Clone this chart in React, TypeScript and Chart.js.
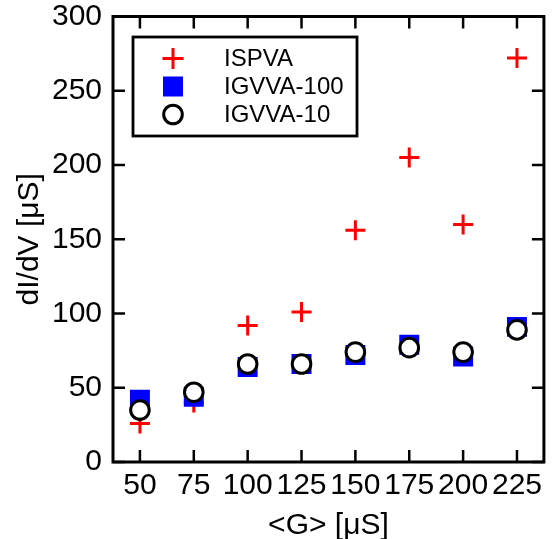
import React, { useEffect, useRef } from "react";
import { Chart, registerables } from "chart.js";

Chart.register(...registerables);

const categories = [50, 75, 100, 125, 150, 175, 200, 225];
const ispva = [26, 40, 92, 101, 156, 205, 160, 272];
const igvva100 = [42, 44, 64, 66, 72, 79, 71, 91];
const igvva10 = [35, 47, 66, 66, 74, 77, 74, 89];
const xTicks = [50, 75, 100, 125, 150, 175, 200, 225];
const yTicks = [0, 50, 100, 150, 200, 250, 300];
const seriesNames = ["ISPVA", "IGVVA-100", "IGVVA-10"];

const FONT = "'Liberation Sans', Arial, Helvetica, sans-serif";

const toPts = (vals: number[]) => categories.map((c, i) => ({ x: c, y: vals[i] }));

const framePlugin = {
  id: "frameTicks",
  afterDraw(chart: any) {
    const { ctx, chartArea } = chart;
    const { left, right, top, bottom } = chartArea;
    const xs = chart.scales.x;
    const ys = chart.scales.y;
    const tl = 12;
    ctx.save();
    ctx.strokeStyle = "#000";
    ctx.lineWidth = 2.5;
    ctx.beginPath();
    xTicks.forEach((v) => {
      const px = xs.getPixelForValue(v);
      ctx.moveTo(px, bottom);
      ctx.lineTo(px, bottom - tl);
      ctx.moveTo(px, top);
      ctx.lineTo(px, top + tl);
    });
    yTicks.forEach((v) => {
      const py = ys.getPixelForValue(v);
      ctx.moveTo(left, py);
      ctx.lineTo(left + tl, py);
      ctx.moveTo(right, py);
      ctx.lineTo(right - tl, py);
    });
    ctx.stroke();
    ctx.lineWidth = 3;
    ctx.strokeRect(left, top, right - left, bottom - top);

    // legend
    const bx = left + 20;
    const by = top + 20.5;
    const bw = 224;
    const bh = 99;
    ctx.fillStyle = "#fff";
    ctx.fillRect(bx, by, bw, bh);
    ctx.lineWidth = 2.8;
    ctx.strokeStyle = "#000";
    ctx.strokeRect(bx, by, bw, bh);
    const mx = bx + 40;
    const tx = bx + 91;
    const rows = [by + 21.5, by + 49.5, by + 77.5];
    // cross
    ctx.strokeStyle = "#ff0000";
    ctx.lineWidth = 3;
    ctx.beginPath();
    ctx.moveTo(mx - 10.5, rows[0]);
    ctx.lineTo(mx + 10.5, rows[0]);
    ctx.moveTo(mx, rows[0] - 10.5);
    ctx.lineTo(mx, rows[0] + 10.5);
    ctx.stroke();
    // square
    ctx.fillStyle = "#0000ff";
    ctx.fillRect(mx - 10, rows[1] - 10, 20, 20);
    // circle
    ctx.beginPath();
    ctx.arc(mx, rows[2], 9.3, 0, Math.PI * 2);
    ctx.fillStyle = "#fff";
    ctx.fill();
    ctx.strokeStyle = "#000";
    ctx.lineWidth = 3;
    ctx.stroke();
    ctx.fillStyle = "#000";
    ctx.font = `24px ${FONT}`;
    ctx.textBaseline = "middle";
    ctx.textAlign = "left";
    seriesNames.forEach((n, i) => ctx.fillText(n, tx, rows[i] + 1));
    ctx.restore();
  },
};

export default function App() {
  const ref = useRef<HTMLCanvasElement | null>(null);
  useEffect(() => {
    if (!ref.current) return;
    const chart = new Chart(ref.current, {
      type: "scatter",
      data: {
        datasets: [
          {
            label: seriesNames[0],
            data: toPts(ispva),
            pointStyle: "cross",
            pointRadius: 10,
            pointHoverRadius: 10,
            borderColor: "#ff0000",
            backgroundColor: "#ff0000",
            pointBorderWidth: 3,
            order: 3,
          },
          {
            label: seriesNames[1],
            data: toPts(igvva100),
            pointStyle: "rect",
            pointRadius: 14.1,
            pointHoverRadius: 14.1,
            borderColor: "#0000ff",
            backgroundColor: "#0000ff",
            pointBorderWidth: 0,
            order: 2,
          },
          {
            label: seriesNames[2],
            data: toPts(igvva10),
            pointStyle: "circle",
            pointRadius: 9.3,
            pointHoverRadius: 9.3,
            borderColor: "#000",
            backgroundColor: "#fff",
            pointBorderWidth: 3,
            order: 1,
          },
        ] as any,
      },
      options: {
        responsive: false,
        animation: false,
        layout: { padding: { top: 16.5, right: 1, left: 0, bottom: 0 } },
        plugins: { legend: { display: false }, tooltip: { enabled: false } },
        scales: {
          x: {
            type: "linear",
            min: 37.5,
            max: 237.5,
            afterBuildTicks: (s: any) => {
              s.ticks = xTicks.map((v) => ({ value: v }));
            },
            afterFit: (s: any) => {
              s.height = 77;
              s.paddingLeft = 0;
              s.paddingRight = 0;
            },
            grid: { display: false, drawTicks: false },
            border: { display: false },
            ticks: {
              autoSkip: false,
              maxRotation: 0,
              padding: 6,
              color: "#000",
              font: { family: FONT, size: 30 },
            },
            title: {
              display: true,
              text: "<G> [μS]",
              color: "#000",
              font: { family: FONT, size: 30, lineHeight: 1 },
              padding: { top: 0, bottom: -2 },
            },
          },
          y: {
            type: "linear",
            min: 0,
            max: 300,
            afterBuildTicks: (s: any) => {
              s.ticks = yTicks.map((v) => ({ value: v }));
            },
            afterFit: (s: any) => {
              s.width = 113;
              s.paddingTop = 0;
              s.paddingBottom = 0;
            },
            grid: { display: false, drawTicks: false },
            border: { display: false },
            ticks: {
              autoSkip: false,
              padding: 11,
              color: "#000",
              font: { family: FONT, size: 30 },
            },
            title: {
              display: true,
              text: "dI/dV [μS]",
              color: "#000",
              font: { family: FONT, size: 30, lineHeight: 1 },
              padding: { top: 15, bottom: 0 },
            },
          },
        },
      } as any,
      plugins: [framePlugin],
    });
    return () => chart.destroy();
  }, []);
  return (
    <div style={{ position: "fixed", left: 0, top: 0, width: 558, height: 539, background: "#fff" }}>
      <canvas ref={ref} width={558} height={539} style={{ display: "block" }} />
    </div>
  );
}
